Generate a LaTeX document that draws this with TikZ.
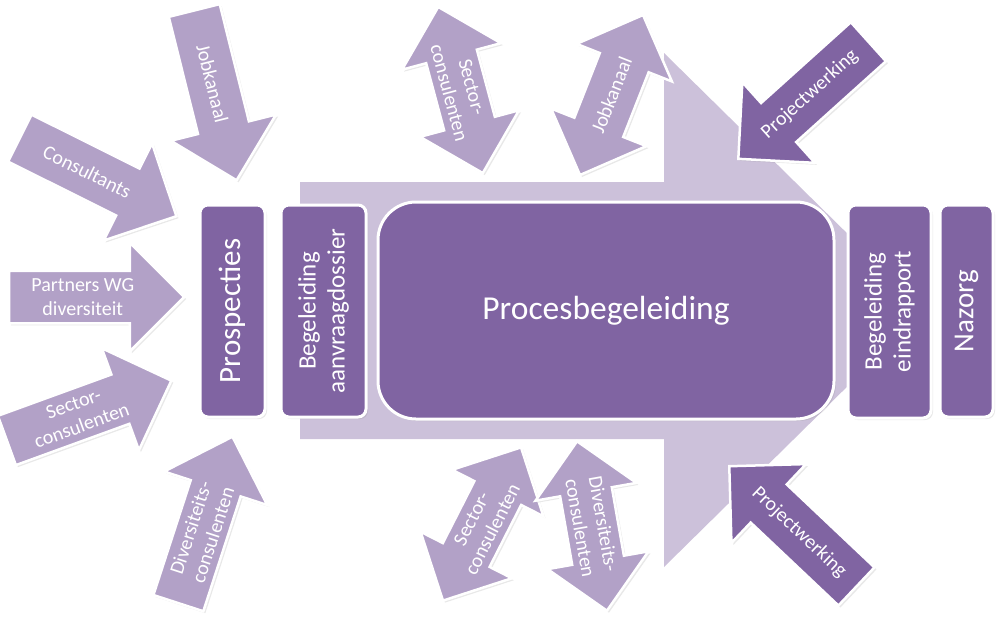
\documentclass[tikz,border=0pt]{standalone}
\usepackage{fontspec}
\setmainfont{Carlito}
\usetikzlibrary{shapes.arrows,shadows,calc}

\definecolor{bigpurple}{HTML}{CCC1DA}
\definecolor{midpurple}{HTML}{B2A1C7}
\definecolor{darkpurple}{HTML}{8064A2}

\tikzset{
  softshadow/.style={drop shadow={opacity=.18, shadow xshift=2pt, shadow yshift=-2pt}},
  box/.style={rectangle, rounded corners=8pt, fill=darkpurple, draw=white, line width=3pt,
    text=white, inner sep=0pt, align=center, softshadow},
  sarrow/.style={single arrow, fill=midpurple, draw=white, line width=2.5pt, inner sep=0pt,
    inner ysep=25pt, minimum height=175pt, single arrow head extend=28pt, anchor=tip, softshadow},
  darrow/.style={double arrow, fill=midpurple, draw=white, line width=2.5pt, inner sep=0pt,
    inner ysep=25pt, minimum height=172pt, double arrow head extend=25pt, softshadow},
  lbl/.style={text=white, align=center, inner sep=0pt, font=\fontsize{20}{23.5}\selectfont},
  boxtext/.style={font=\fontsize{25}{29}\selectfont},
  bigtext/.style={font=\fontsize{31}{36}\selectfont}
}

\begin{document}
\begin{tikzpicture}[x=1pt, y=-1pt]
    \useasboundingbox (0,0) rectangle (1003,625);

    % background arrow
    \fill[bigpurple] (300,182) -- (664,182) -- (664,53) -- (925,310) -- (664,567)
        -- (664,439) -- (300,439) -- cycle;

    % arrows towards the prospection (placed by their tips)
    \node[sarrow, rotate=-76] (job1) at (237,182) {};
    \node[lbl, rotate=-76] (job1t) at ($(job1.tail)!.43!(job1.tip)$) {Jobkanaal};

    \node[sarrow, rotate=-26.5] (cons) at (178,217) {};
    \node[lbl, rotate=-26.5] (const) at ($(cons.tail)!.43!(cons.tip)$) {Consultants};

    \node[sarrow] (partn) at (186,297) {};
    \node[lbl] (partnt) at ($(partn.tail)!.42!(partn.tip)$) {Partners WG\\diversiteit};

    \node[sarrow, rotate=20] (sect1) at (173,380) {};
    \node[lbl, rotate=20] (sect1t) at ($(sect1.tail)!.43!(sect1.tip)$) {Sector-\\consulenten};

    \node[sarrow, rotate=72] (div1) at (233,435) {};
    \node[lbl, rotate=72] (div1t) at ($(div1.tail)!.43!(div1.tip)$) {Diversiteits-\\consulenten};

    % two-way arrows around the process
    \node[darrow, rotate=-75] (sect2) at (460.5,90) {};
    \node[lbl, rotate=-75] (sect2t) at (sect2.center) {Sector-\\consulenten};

    \node[darrow, rotate=68.5] (job2) at (611.5,95) {};
    \node[lbl, rotate=68.5] (job2t) at (job2.center) {Jobkanaal};

    \node[darrow, rotate=63] (sect3) at (482,524) {};
    \node[lbl, rotate=63] (sect3t) at (sect3.center) {Sector-\\consulenten};

    \node[darrow, rotate=-80] (div2) at (592,526) {};
    \node[lbl, rotate=-80] (div2t) at (div2.center) {Diversiteits-\\consulenten};

    % project work
    \node[sarrow, fill=darkpurple, shape border rotate=180, rotate=42] (proj1) at (737,160) {};
    \node[lbl, rotate=42] (proj1t) at ($(proj1.tail)!.45!(proj1.tip)$) {Projectwerking};

    \node[sarrow, fill=darkpurple, shape border rotate=180, rotate=-43.4] (proj2) at (728,465) {};
    \node[lbl, rotate=-43.4] (proj2t) at ($(proj2.tail)!.45!(proj2.tip)$) {Projectwerking};

    % phases
    \node[box, bigtext, rotate=90, minimum width=212pt, minimum height=65pt] (prosp) at (232.5,311) {Prospecties};
    \node[box, boxtext, rotate=90, minimum width=212pt, minimum height=85pt] (aanvr) at (323.5,311) {Begeleiding\\aanvraagdossier};
    \node[box, rounded corners=38pt, minimum width=456pt, minimum height=217pt, font=\fontsize{33.5}{38}\selectfont] (proces) at (606,310.5) {Procesbegeleiding};
    \node[box, boxtext, rotate=90, minimum width=213pt, minimum height=83pt] (eind) at (889.5,311.5) {Begeleiding\\eindrapport};
    \node[box, rotate=90, minimum width=212pt, minimum height=53pt, font=\fontsize{29}{34}\selectfont] (nazorg) at (966.5,311) {Nazorg};

\end{tikzpicture}
\end{document}
